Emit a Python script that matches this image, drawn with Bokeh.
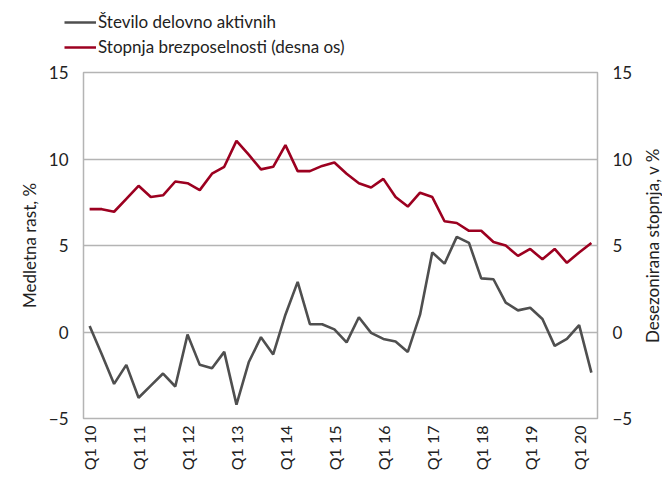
import math
from bokeh.plotting import figure
from bokeh.layouts import column, row
from bokeh.models import (ColumnDataSource, Range1d, LinearAxis, FixedTicker,
                          Legend, LegendItem, Label)
from bokeh.embed import file_html
from bokeh.resources import INLINE

# Quarters Q1 2010 .. Q2 2020
quarters = [f"Q{q} {y:02d}" for y in range(10, 21) for q in range(1, 5)][:42]
tick_labels = ["Q1 10", "Q1 11", "Q1 12", "Q1 13", "Q1 14", "Q1 15",
               "Q1 16", "Q1 17", "Q1 18", "Q1 19", "Q1 20"]

# Število delovno aktivnih (y/y growth, %)
employed = [0.35, -1.3, -3.0, -1.9, -3.8, -3.1, -2.4, -3.15,
            -0.15, -1.9, -2.1, -1.15, -4.2, -1.75, -0.3, -1.3,
            1.0, 2.9, 0.45, 0.45, 0.15, -0.6, 0.85, -0.05,
            -0.4, -0.55, -1.15, 1.0, 4.6, 3.95, 5.5, 5.15,
            3.1, 3.05, 1.7, 1.25, 1.4, 0.75, -0.8, -0.4,
            0.4, -2.35]

# Stopnja brezposelnosti (seasonally adjusted, %)
unemp = [7.1, 7.1, 6.95, 7.7, 8.45, 7.8, 7.9, 8.7,
         8.6, 8.2, 9.15, 9.55, 11.05, 10.25, 9.4, 9.55,
         10.8, 9.3, 9.3, 9.6, 9.8, 9.15, 8.6, 8.35,
         8.85, 7.8, 7.25, 8.05, 7.8, 6.4, 6.3, 5.85,
         5.85, 5.2, 5.0, 4.4, 4.8, 4.2, 4.8, 4.0,
         4.6, 5.15]

series_names = ["Število delovno aktivnih", "Stopnja brezposelnosti (desna os)"]
series_colors = ["#4f4f4f", "#9c0020"]
y_ticks = [-5, 0, 5, 10, 15]
left_title = "Medletna rast, %"
right_title = "Desezonirana stopnja, v %"

x = list(range(len(quarters)))
src = ColumnDataSource(dict(x=x, emp=employed, un=unemp))

FONT = "Lato"
TXT = "#222222"
GRID = "#b4b4b4"
W = 662
H = 479
LEG_H = 60
SW = 22              # strip carrying the right-hand axis title
MAIN_H = H - LEG_H
TOP_B = 72 - LEG_H
BOT_B = 61

# ---------- legend strip (its lines sit outside its view; only the legend shows) ----------
lf = figure(width=W, height=LEG_H, output_backend="svg", toolbar_location=None,
            x_axis_type=None, y_axis_type=None,
            x_range=Range1d(-0.5, len(quarters) - 0.5), y_range=Range1d(100, 101),
            min_border=0, min_border_left=0, min_border_right=0,
            min_border_top=0, min_border_bottom=0)
lf.frame_align = False
lf.outline_line_color = None
lf.xgrid.grid_line_color = None
lf.ygrid.grid_line_color = None
lr = [lf.line("x", col, source=src, line_color=c, line_width=2.6)
      for col, c in zip(["emp", "un"], series_colors)]
legend = Legend(items=[LegendItem(label=n, renderers=[r]) for n, r in zip(series_names, lr)],
                location=(64, 3), orientation="vertical",
                padding=0, margin=0, spacing=4, glyph_width=32, glyph_height=20,
                label_height=20, label_standoff=2,
                border_line_color=None, background_fill_alpha=0,
                label_text_font=FONT, label_text_font_size="17px",
                label_text_color=TXT)
lf.add_layout(legend, "center")

# ---------- main chart ----------
p = figure(width=W - SW, height=MAIN_H, output_backend="svg", toolbar_location=None,
           x_range=Range1d(-0.5, len(quarters) - 0.5), y_range=Range1d(-5, 15),
           min_border_left=83, min_border_right=W - SW - 597, min_border_top=TOP_B,
           min_border_bottom=BOT_B)
p.extra_y_ranges = {"right": Range1d(-5, 15)}

p.outline_line_color = GRID
p.outline_line_width = 1.5

p.xgrid.grid_line_color = None
p.ygrid.grid_line_color = GRID
p.ygrid.grid_line_width = 1.5
p.ygrid.ticker = FixedTicker(ticks=y_ticks)

xa = p.xaxis[0]
xa.ticker = FixedTicker(ticks=list(range(0, len(quarters), 4)))
xa.major_label_overrides = {i * 4: t for i, t in enumerate(tick_labels)}
xa.major_label_orientation = math.pi / 2
xa.axis_line_color = None
xa.major_tick_line_color = None
xa.minor_tick_line_color = None
xa.major_tick_out = 0
xa.major_tick_in = 0
xa.minor_tick_out = 0
xa.major_label_text_font = FONT
xa.major_label_text_font_size = "16px"
xa.major_label_text_color = TXT
xa.major_label_standoff = 7

ya = p.yaxis[0]
ya.ticker = FixedTicker(ticks=y_ticks)
ya.axis_label = left_title

ra = LinearAxis(y_range_name="right", ticker=FixedTicker(ticks=y_ticks))
p.add_layout(ra, "right")

for ax in (ya, ra):
    ax.axis_line_color = None
    ax.major_tick_line_color = None
    ax.minor_tick_line_color = None
    ax.major_tick_out = 0
    ax.major_tick_in = 0
    ax.minor_tick_out = 0
    ax.major_label_text_font = FONT
    ax.major_label_text_font_size = "17px"
    ax.major_label_text_color = TXT
    ax.major_label_standoff = 15
    ax.axis_label_text_font = FONT
    ax.axis_label_text_font_size = "17px"
    ax.axis_label_text_font_style = "normal"
    ax.axis_label_text_color = TXT
    ax.axis_label_standoff = 6

p.line("x", "emp", source=src, line_color=series_colors[0], line_width=2.6)
p.line("x", "un", source=src, line_color=series_colors[1], line_width=2.6,
       y_range_name="right")

# ---------- right title strip: the title reads bottom-to-top as in the original ----------
st = figure(width=SW, height=MAIN_H, output_backend="svg", toolbar_location=None,
            x_axis_type=None, y_axis_type=None,
            x_range=Range1d(0, 1), y_range=Range1d(0, 1),
            min_border=0, min_border_left=0, min_border_right=0,
            min_border_top=0, min_border_bottom=0)
st.frame_align = False
st.outline_line_color = None
st.xgrid.grid_line_color = None
st.ygrid.grid_line_color = None
st.add_layout(Label(x=12, y=MAIN_H - (245 - LEG_H), x_units="screen", y_units="screen",
                    text=right_title, angle=math.pi / 2,
                    text_align="center", text_baseline="middle",
                    text_font=FONT, text_font_size="17px", text_color=TXT))

layout = column(lf, row(p, st, spacing=0), spacing=0)
open("out.html", "w").write(file_html(layout, INLINE))
